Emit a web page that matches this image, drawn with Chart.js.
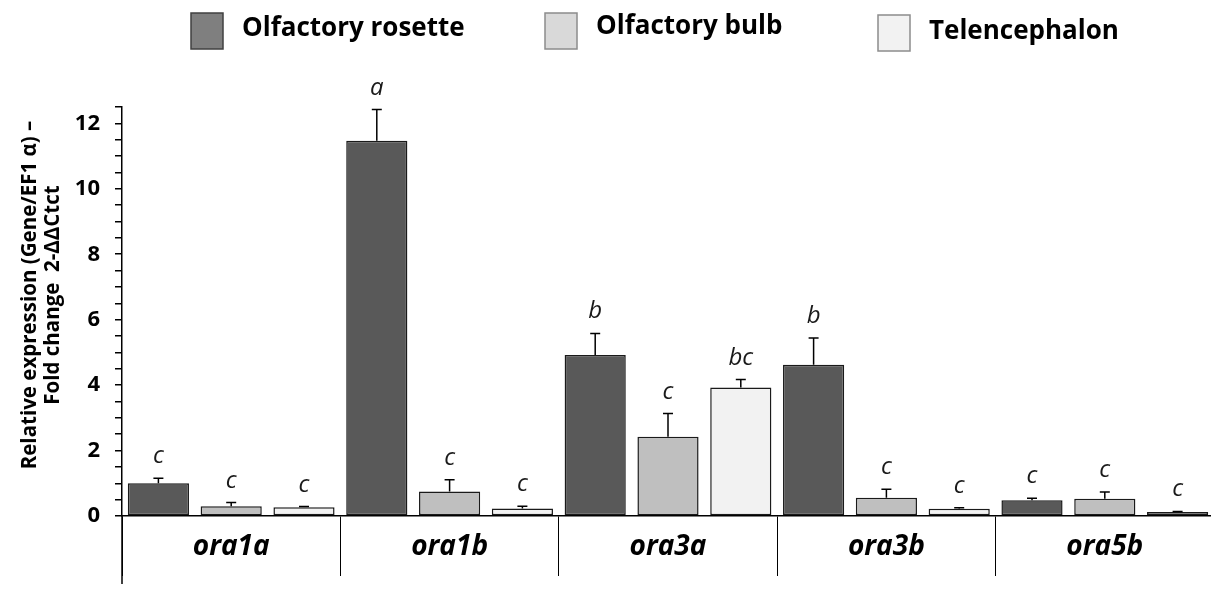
<!DOCTYPE html>
<html>
<head>
<meta charset="utf-8">
<script src="https://cdn.jsdelivr.net/npm/chart.js@4"></script>
<style>
  html, body { margin: 0; padding: 0; background: #fff; overflow: hidden; }
  #wrap { width: 1214px; height: 600px; }
</style>
</head>
<body>
<div id="wrap"><canvas id="chart"></canvas></div>
<script>
// Relative expression of ora genes in three tissues

const genes = ["ora1a", "ora1b", "ora3a", "ora3b", "ora5b"]
const tissues = ["Olfactory rosette", "Olfactory bulb", "Telencephalon"]

const rosetteMeans = [1.0, 11.47, 4.92, 4.62, 0.48]
const rosetteErrors = [0.15, 0.95, 0.66, 0.82, 0.06]
const bulbMeans = [0.3, 0.75, 2.42, 0.56, 0.53]
const bulbErrors = [0.11, 0.36, 0.71, 0.26, 0.2]
const telMeans = [0.27, 0.23, 3.93, 0.22, 0.12]
const telErrors = [0.02, 0.07, 0.24, 0.03, 0.02]

const rosetteLetters = ["c", "a", "b", "b", "c"]
const bulbLetters = ["c", "c", "c", "c", "c"]
const telLetters = ["c", "c", "bc", "c", "c"]

const yTicks = [0, 2, 4, 6, 8, 10, 12]
const yTitle = ["Relative expression (Gene/EF1 \u03b1) \u2013", "Fold change  2-\u0394\u0394Ctct"]

const barColors = ["#595959", "#bfbfbf", "#f2f2f2"]
const legendColors = ["#7f7f7f", "#d9d9d9", "#f2f2f2"]
const legendBorders = ["#404040", "#8c8c8c", "#8c8c8c"]

const FONT = "'Open Sans', sans-serif"
Chart.defaults.font.family = FONT
Chart.defaults.color = "#000"

// Error bars + significance letters above each bar
const errorBarPlugin = {
  id: "errorBars",
  afterDatasetsDraw(chart) {
    const ctx = chart.ctx
    const yScale = chart.scales.y
    chart.data.datasets.forEach((ds, i) => {
      const meta = chart.getDatasetMeta(i)
      meta.data.forEach((bar, j) => {
        const top = yScale.getPixelForValue(ds.data[j] + ds.errors[j])
        ctx.save()
        ctx.strokeStyle = "#000"
        ctx.lineWidth = 1.5
        ctx.beginPath()
        ctx.moveTo(bar.x, bar.y)
        ctx.lineTo(bar.x, top)
        ctx.moveTo(bar.x - 5, top)
        ctx.lineTo(bar.x + 5, top)
        ctx.stroke()
        ctx.fillStyle = "#1a1a1a"
        ctx.font = "italic 24px " + FONT
        ctx.textAlign = "center"
        ctx.textBaseline = "alphabetic"
        ctx.fillText(ds.letters[j], bar.x, top - 15)
        ctx.restore()
      })
    })
  },
}

// Legend, y title and the axis extension below the plot
const decorPlugin = {
  id: "decor",
  afterDraw(chart) {
    const ctx = chart.ctx
    const area = chart.chartArea
    ctx.save()

    // y axis runs a bit below the category separators
    ctx.strokeStyle = "#000"
    ctx.lineWidth = 1.5
    ctx.beginPath()
    ctx.moveTo(area.left, area.bottom)
    ctx.lineTo(area.left, 584)
    ctx.stroke()

    // rotated two-line y title
    ctx.fillStyle = "#000"
    ctx.font = "bold 20.5px " + FONT
    ctx.textAlign = "center"
    ctx.textBaseline = "middle"
    ;[30, 53].forEach((x, k) => {
      ctx.save()
      ctx.translate(x, 295)
      ctx.rotate(-Math.PI / 2)
      ctx.fillText(yTitle[k], 0, 0)
      ctx.restore()
    })

    // legend
    const items = [
      { bx: 191, by: 13, tx: 242, ty: 29 },
      { bx: 545, by: 13, tx: 596, ty: 27 },
      { bx: 878, by: 15, tx: 929, ty: 32 },
    ]
    ctx.font = "bold 26px " + FONT
    ctx.textAlign = "left"
    items.forEach((it, k) => {
      ctx.fillStyle = legendColors[k]
      ctx.fillRect(it.bx, it.by, 32, 36)
      ctx.strokeStyle = legendBorders[k]
      ctx.lineWidth = 1.5
      ctx.strokeRect(it.bx, it.by, 32, 36)
      ctx.fillStyle = "#000"
      ctx.fillText(tissues[k], it.tx, it.ty)
    })
    ctx.restore()
  },
}

const ctx = document.getElementById("chart").getContext("2d")

new Chart(ctx, {
  type: "bar",
  data: {
    labels: genes,
    datasets: [
      { label: tissues[0], data: rosetteMeans, errors: rosetteErrors, letters: rosetteLetters, backgroundColor: barColors[0] },
      { label: tissues[1], data: bulbMeans, errors: bulbErrors, letters: bulbLetters, backgroundColor: barColors[1] },
      { label: tissues[2], data: telMeans, errors: telErrors, letters: telLetters, backgroundColor: barColors[2] },
    ].map((d) => ({
      ...d,
      borderColor: "#1a1a1a",
      borderWidth: 1.5,
      borderSkipped: false,
      categoryPercentage: 1.0,
      barPercentage: 0.84,
    })),
  },
  options: {
    responsive: true,
    maintainAspectRatio: false,
    animation: false,
    layout: { padding: { top: 107, left: 0, right: 0, bottom: 0 } },
    plugins: {
      legend: { display: false },
      tooltip: { enabled: false },
    },
    scales: {
      x: {
        grid: {
          display: true,
          drawOnChartArea: false,
          drawTicks: true,
          offset: true,
          tickLength: 60,
          color: "#000",
          lineWidth: 1,
        },
        border: { display: true, color: "#000", width: 1.5 },
        ticks: {
          padding: -46,
          color: "#000",
          font: { size: 28, weight: "bold", style: "italic" },
        },
        afterFit: (scale) => {
          scale.height = 84
        },
      },
      y: {
        min: 0,
        max: 12.5,
        ticks: {
          stepSize: 0.5,
          autoSkip: false,
          padding: 15,
          color: "#000",
          font: { size: 22, weight: "bold" },
          callback: (v) => (yTicks.includes(v) ? v : ""),
        },
        grid: {
          drawOnChartArea: false,
          drawTicks: true,
          tickLength: 7,
          color: "#000",
          lineWidth: 1.5,
        },
        border: { display: true, color: "#000", width: 1.5 },
        afterFit: (scale) => {
          scale.width = 122
        },
      },
    },
  },
  plugins: [errorBarPlugin, decorPlugin],
})
</script>
</body>
</html>
